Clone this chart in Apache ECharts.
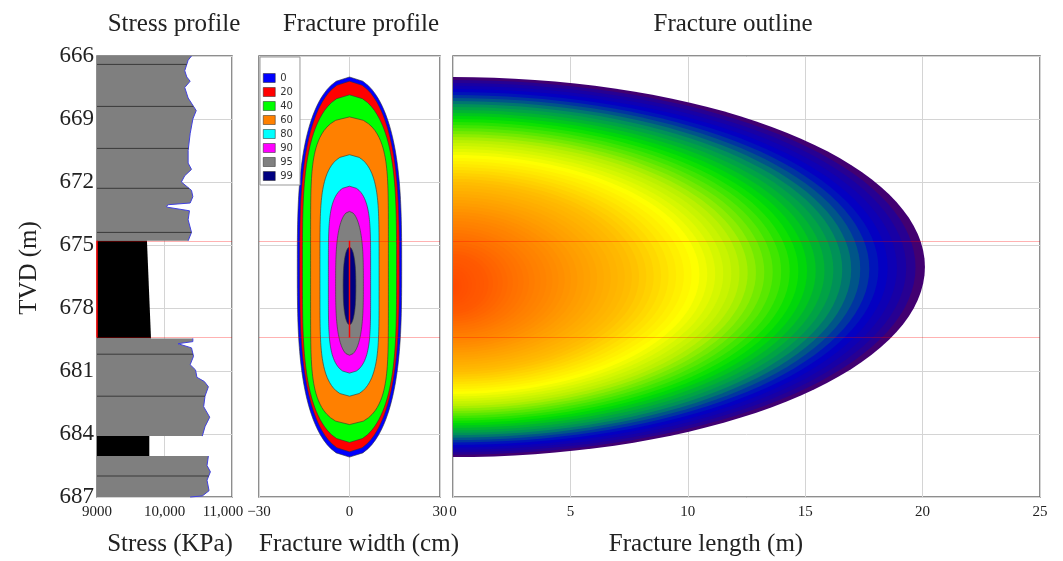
<!DOCTYPE html>
<html>
<head>
<meta charset="utf-8">
<script src="https://cdn.jsdelivr.net/npm/echarts@6/dist/echarts.min.js"></script>
<style>
  html, body { margin: 0; padding: 0; background: #fff; }
  #chart { width: 1063px; height: 561px; }
</style>
</head>
<body>
<div id="chart"></div>
<script>
// depth axis (TVD, m)
const depthMin = 666
const depthMax = 687

// tick labels
const stressTicks = [9000, 10000, 11000]
const stressTickLabels = ['9000', '10,000', '11,000']
const widthTicks = [-30, 0, 30]
const widthTickLabels = ['\u221230', '0', '30']

// perforated interval
const perfTop = 674.8
const perfBottom = 679.4

// stress profile, one array pair per zone
const upperShaleDepth = [666.0, 666.2, 666.7, 667.0, 667.2, 667.5, 668.0, 668.4, 668.6, 669.0, 669.7, 670.5, 671.1, 671.4, 671.7, 672.0, 672.4, 672.7, 673.0, 673.08, 673.14, 673.2, 673.37, 673.8, 674.4, 674.8]
const upperShaleStress = [10400, 10350, 10300, 10330, 10380, 10300, 10350, 10430, 10470, 10420, 10380, 10350, 10350, 10400, 10300, 10250, 10400, 10420, 10380, 10060, 10030, 10040, 10370, 10350, 10400, 10350]
const payDepth = [674.8, 679.45]
const payStress = [9740, 9800]
const midShaleDepth = [679.45, 679.6, 679.7, 679.9, 680.3, 680.7, 680.95, 681.3, 681.5, 681.75, 682.2, 682.7, 683.2, 683.65, 684.1]
const midShaleStress = [10420, 10420, 10200, 10400, 10430, 10380, 10460, 10480, 10590, 10650, 10600, 10580, 10670, 10600, 10560]
const lowerSandDepth = [684.1, 685.05]
const lowerSandStress = [9775, 9775]
const lowerShaleDepth = [685.05, 685.5, 685.8, 686.2, 686.7, 686.95, 687.0]
const lowerShaleStress = [10650, 10630, 10680, 10630, 10660, 10560, 10380]
const layerBoundaries = [666.4, 668.4, 670.4, 672.3, 674.4, 680.2, 682.2, 686.0]

// fracture width contours (% of max width)
const levels = ['0', '20', '40', '60', '80', '90', '95', '99']
const contourTop = [667.0, 667.2, 667.85, 668.9, 670.7, 672.2, 673.4, 675.1]
const contourBottom = [685.1, 684.85, 684.4, 683.55, 682.2, 681.1, 680.25, 678.8]
const contourHalfWidth = [17.3, 16.5, 15.6, 12.9, 9.8, 7.0, 4.6, 2.1]
const contourShape = [3, 3, 3.5, 6, 5, 5, 3, 2.5]

// fracture outline
const fractureLength = 20.1
const fractureTop = 667.0
const fractureBottom = 685.1
const fractureCenter = 677.0

// styles
const levelColors = ['#0000ff', '#ff0000', '#00ff00', '#ff8000', '#00ffff', '#ff00ff', '#808080', '#000080']
const outlineStops = [
  [0, '#ff4800'], [0.15, '#ff5a00'], [0.34, '#ff8c00'], [0.5, '#ffbe00'],
  [0.62, '#ffff00'], [0.7, '#b4f000'], [0.8, '#00e000'], [0.87, '#008a60'],
  [0.93, '#0000c8'], [0.975, '#20009a'], [1, '#500060']
]
const serif = "'Liberation Serif', 'Times New Roman', serif"
const gridColor = '#d4d4d4'
const frameColor = '#6a6a6a'
const textColor = '#222'

const stressZones = [
  { depth: upperShaleDepth, stress: upperShaleStress, rock: 'shale' },
  { depth: payDepth, stress: payStress, rock: 'sand' },
  { depth: midShaleDepth, stress: midShaleStress, rock: 'shale' },
  { depth: lowerSandDepth, stress: lowerSandStress, rock: 'sand' },
  { depth: lowerShaleDepth, stress: lowerShaleStress, rock: 'shale' }
]

function stressAt(depth) {
  for (const z of stressZones) {
    const ds = z.depth
    if (z.rock !== 'shale' || depth < ds[0] || depth > ds[ds.length - 1]) continue
    for (let i = 1; i < ds.length; i++) {
      if (depth <= ds[i]) {
        const f = (depth - ds[i - 1]) / (ds[i] - ds[i - 1])
        return z.stress[i - 1] + f * (z.stress[i] - z.stress[i - 1])
      }
    }
  }
  return stressTicks[0]
}

function hexToRgb(h) {
  return [parseInt(h.slice(1, 3), 16), parseInt(h.slice(3, 5), 16), parseInt(h.slice(5, 7), 16)]
}

function colorAt(t) {
  for (let i = 1; i < outlineStops.length; i++) {
    if (t <= outlineStops[i][0]) {
      const a = hexToRgb(outlineStops[i - 1][1])
      const b = hexToRgb(outlineStops[i][1])
      const f = (t - outlineStops[i - 1][0]) / (outlineStops[i][0] - outlineStops[i - 1][0])
      return 'rgb(' + a.map((v, k) => Math.round(v + f * (b[k] - v))).join(',') + ')'
    }
  }
  return outlineStops[outlineStops.length - 1][1]
}

// plain text placed on the canvas (titles and axis names)
function label(text, x, y, rotation) {
  return {
    type: 'text', x: x, y: y, rotation: rotation || 0,
    style: { text: text, font: '25px ' + serif, fill: textColor, textAlign: 'center', textVerticalAlign: 'middle' }
  }
}

const chart = echarts.init(document.getElementById('chart'))

const perfMarkLine = {
  silent: true,
  symbol: 'none',
  label: { show: false },
  lineStyle: { color: 'rgba(255,0,0,0.3)', width: 1, type: 'solid' },
  data: [{ yAxis: perfTop }, { yAxis: perfBottom }]
}

const tickLabel = { fontFamily: serif, fontSize: 15, color: textColor, margin: 8 }

// contour series for the fracture profile
const contourSeries = levels.map((name, i) => ({
  name: name,
  type: 'custom',
  xAxisIndex: 1,
  yAxisIndex: 1,
  z: 2 + i * 0.01,
  itemStyle: { color: levelColors[i] },
  data: [[contourTop[i], contourBottom[i], contourHalfWidth[i]]],
  renderItem: (params, api) => {
    const top = api.value(0)
    const bottom = api.value(1)
    const hw = api.value(2)
    const c = (top + bottom) / 2
    const semi = (bottom - top) / 2
    const p = contourShape[i]
    const n = 90
    const right = []
    const left = []
    for (let j = 0; j <= n; j++) {
      const s = -1 + 2 * j / n
      const w = hw * Math.sqrt(Math.max(0, 1 - Math.pow(Math.abs(s), p)))
      right.push(api.coord([w, c + s * semi]))
      left.unshift(api.coord([-w, c + s * semi]))
    }
    return {
      type: 'polygon',
      shape: { points: right.concat(left) },
      style: { fill: levelColors[i], stroke: '#333', lineWidth: 0.6 }
    }
  }
}))

const option = {
  animation: false,
  backgroundColor: '#fff',
  graphic: [
    label('Stress profile', 174, 24),
    label('Fracture profile', 361, 24),
    label('Fracture outline', 733, 24),
    label('Stress (KPa)', 170, 544),
    label('Fracture width (cm)', 359, 544),
    label('Fracture length (m)', 706, 544),
    label('TVD (m)', 29, 268, Math.PI / 2)
  ],
  legend: {
    data: levels,
    orient: 'vertical',
    left: 260,
    top: 57,
    padding: [16, 7, 4, 3],
    itemWidth: 12,
    itemHeight: 9,
    itemGap: 4,
    icon: 'rect',
    selectedMode: false,
    backgroundColor: '#fff',
    borderColor: '#999',
    borderWidth: 1,
    itemStyle: { borderColor: '#222', borderWidth: 0.5 },
    textStyle: { fontSize: 10, color: '#333', fontFamily: 'DejaVu Sans' }
  },
  grid: [
    { left: 97, top: 56, width: 135, height: 441, show: true, borderColor: frameColor, borderWidth: 1.5, backgroundColor: '#fff' },
    { left: 259, top: 56, width: 181, height: 441, show: true, borderColor: frameColor, borderWidth: 1.5, backgroundColor: '#fff' },
    { left: 453, top: 56, width: 587, height: 441, show: true, borderColor: frameColor, borderWidth: 1.5, backgroundColor: '#fff' }
  ],
  xAxis: [
    {
      gridIndex: 0, type: 'value', min: 9000, max: 11000, interval: 1000,
      axisLine: { show: false }, axisTick: { show: false },
      splitLine: { lineStyle: { color: gridColor } },
      axisLabel: Object.assign({}, tickLabel, {
        formatter: v => {
          const i = stressTicks.indexOf(v)
          return i === stressTicks.length - 1 ? '{last|' + stressTickLabels[i] + '}' : stressTickLabels[i]
        },
        rich: { last: { fontFamily: serif, fontSize: 15, color: textColor, padding: [0, 18, 0, 0] } }
      })
    },
    {
      gridIndex: 1, type: 'value', min: -30, max: 30, interval: 30,
      axisLine: { show: false }, axisTick: { show: false },
      splitLine: { lineStyle: { color: gridColor } },
      axisLabel: Object.assign({}, tickLabel, {
        formatter: v => widthTickLabels[widthTicks.indexOf(v)]
      })
    },
    {
      gridIndex: 2, type: 'value', min: 0, max: 25, interval: 5,
      axisLine: { show: false }, axisTick: { show: false },
      splitLine: { lineStyle: { color: gridColor } },
      axisLabel: tickLabel
    }
  ],
  yAxis: [0, 1, 2].map(i => ({
    gridIndex: i, type: 'value', inverse: true, min: depthMin, max: depthMax, interval: 3,
    axisLine: { show: false }, axisTick: { show: false },
    splitLine: { lineStyle: { color: gridColor } },
    axisLabel: { show: i === 0, fontFamily: serif, fontSize: 23, color: textColor, margin: 3 }
  })),
  series: [
    // stress profile zones
    {
      type: 'custom',
      xAxisIndex: 0,
      yAxisIndex: 0,
      z: 2,
      data: stressZones.map((z, i) => [z.stress[0], z.depth[0], i]),
      renderItem: (params, api) => {
        const z = stressZones[params.dataIndex]
        const edge = z.depth.map((d, k) => api.coord([z.stress[k], d]))
        const poly = [api.coord([stressTicks[0], z.depth[0]])].concat(edge,
          [api.coord([stressTicks[0], z.depth[z.depth.length - 1]])])
        const shale = z.rock === 'shale'
        const children = [{ type: 'polygon', shape: { points: poly }, style: { fill: shale ? '#7f7f7f' : '#000' } }]
        if (shale) {
          children.push({ type: 'polyline', shape: { points: edge }, style: { stroke: '#4040e0', lineWidth: 1, fill: null } })
        }
        return { type: 'group', children: children }
      }
    },
    // layer boundaries inside the shale
    {
      type: 'custom',
      xAxisIndex: 0,
      yAxisIndex: 0,
      z: 3,
      data: layerBoundaries.map(d => [stressTicks[0], d]),
      renderItem: (params, api) => {
        const d = api.value(1)
        const p0 = api.coord([stressTicks[0], d])
        const p1 = api.coord([stressAt(d), d])
        return { type: 'line', shape: { x1: p0[0], y1: p0[1], x2: p1[0], y2: p1[1] }, style: { stroke: '#3a3a3a', lineWidth: 1 } }
      }
    },
    {
      type: 'line',
      xAxisIndex: 0,
      yAxisIndex: 0,
      z: 5,
      symbol: 'none',
      silent: true,
      lineStyle: { color: '#ff0000', width: 1.5 },
      data: [[stressTicks[0], perfTop], [stressTicks[0], perfBottom]],
      markLine: perfMarkLine
    },
    ...contourSeries,
    {
      type: 'line',
      xAxisIndex: 1,
      yAxisIndex: 1,
      z: 5,
      symbol: 'none',
      silent: true,
      lineStyle: { color: '#ff0000', width: 1.5 },
      data: [[0, perfTop], [0, perfBottom]],
      markLine: perfMarkLine
    },
    // fracture outline, nested colour bands
    {
      type: 'custom',
      xAxisIndex: 2,
      yAxisIndex: 2,
      z: 2,
      data: [[fractureLength, fractureTop, fractureBottom, fractureCenter]],
      renderItem: (params, api) => {
        const L = api.value(0)
        const top = api.value(1)
        const bottom = api.value(2)
        const cc = api.value(3)
        const c0 = (top + bottom) / 2
        const B = (bottom - top) / 2
        const N = 70
        const children = []
        for (let k = 0; k < N; k++) {
          const r = 1 - k / N
          const c = cc + (c0 - cc) * r
          const a = L * Math.pow(r, 1.4)
          const b = B * r
          const pts = []
          for (let j = 0; j <= 72; j++) {
            const th = -Math.PI / 2 + Math.PI * j / 72
            pts.push(api.coord([a * Math.cos(th), c + b * Math.sin(th)]))
          }
          children.push({ type: 'polygon', shape: { points: pts }, style: { fill: colorAt(r - 0.5 / N) } })
        }
        return { type: 'group', children: children }
      },
      markLine: perfMarkLine
    }
  ]
}

chart.setOption(option)
</script>
</body>
</html>
